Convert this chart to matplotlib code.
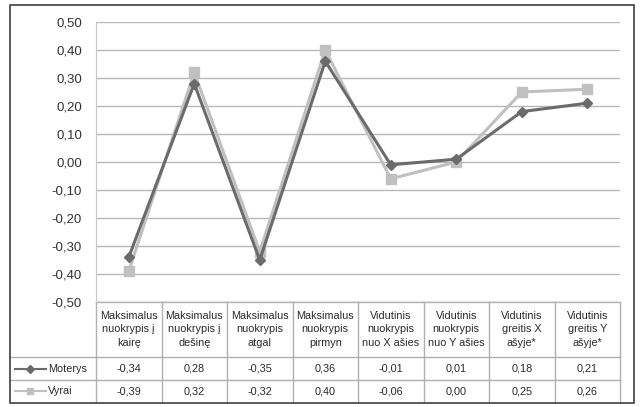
import matplotlib.pyplot as plt
from matplotlib.patches import Rectangle
from matplotlib.ticker import FuncFormatter

categories = ['Maksimalus\nnuokrypis į\nkairę', 'Maksimalus\nnuokrypis į\ndešinę',
              'Maksimalus\nnuokrypis\natgal', 'Maksimalus\nnuokrypis\npirmyn',
              'Vidutinis\nnuokrypis\nnuo X ašies', 'Vidutinis\nnuokrypis\nnuo Y ašies',
              'Vidutinis\ngreitis X\našyje*', 'Vidutinis\ngreitis Y\našyje*']
moterys = [-0.34, 0.28, -0.35, 0.36, -0.01, 0.01, 0.18, 0.21]
vyrai = [-0.39, 0.32, -0.32, 0.40, -0.06, 0.00, 0.25, 0.26]
yticks = [-0.5, -0.4, -0.3, -0.2, -0.1, 0.0, 0.1, 0.2, 0.3, 0.4, 0.5]

dark = '#6b6b6b'
light = '#c0c0c0'
grid = '#b8b8b8'
fam = ['Liberation Sans', 'DejaVu Sans']
tsize = 7.8
tcol = '#2a2a2a'

fig = plt.figure(figsize=(6.4, 4.07), dpi=100)
W, H = 640, 407
ax = fig.add_axes([96 / W, 1 - 302 / H, 524 / W, 280 / H])

x = list(range(len(categories)))
ax.plot(x, moterys, color=dark, lw=2.2, marker='D', ms=5.5, zorder=3)
ax.plot(x, vyrai, color=light, lw=2.2, marker='s', ms=7, zorder=2)

ax.set_xlim(-0.5, 7.5)
ax.set_ylim(-0.5, 0.5)
ax.set_yticks(yticks)
ax.yaxis.set_major_formatter(FuncFormatter(lambda v, p: ('%.2f' % v).replace('.', ',').replace('-0,00', '0,00')))
ax.tick_params(axis='y', length=0, pad=10, labelsize=9.5, colors='#333333')
ax.set_xticks([])
for lab in ax.get_yticklabels():
    lab.set_family(fam)
ax.grid(axis='y', color=grid, lw=1)
ax.set_axisbelow(True)
for s in ['top', 'right', 'bottom']:
    ax.spines[s].set_visible(False)
ax.spines['left'].set_color('#c8c8c8')

# data table below the plot (axes coords)
px = 1 / 524.0
py = 1 / 280.0
x_left = -86 * px
y_head = -55 * py
y_m = -78 * py
y_v = -100 * py
lc = '#b0b0b0'
ax.plot([0, 1], [0, 0], color=lc, lw=1, transform=ax.transAxes, clip_on=False)
for yy in [y_head, y_m]:
    ax.plot([x_left, 1], [yy, yy], color=lc, lw=1, transform=ax.transAxes, clip_on=False)
for i in range(len(categories) + 1):
    xx = i / len(categories)
    ax.plot([xx, xx], [0, y_v], color=lc, lw=1, transform=ax.transAxes, clip_on=False)

for i, c in enumerate(categories):
    xc = (i + 0.5) / len(categories)
    ax.text(xc, y_head / 2, c, ha='center', va='center', fontsize=tsize, family=fam,
            linespacing=1.45, transform=ax.transAxes, color=tcol)
    ax.text(xc, (y_head + y_m) / 2, ('%.2f' % moterys[i]).replace('.', ','), ha='center', va='center',
            fontsize=tsize, family=fam, transform=ax.transAxes, color=tcol)
    ax.text(xc, (y_m + y_v) / 2, ('%.2f' % vyrai[i]).replace('.', ','), ha='center', va='center',
            fontsize=tsize, family=fam, transform=ax.transAxes, color=tcol)

# legend keys in first column
for yy, col, mk, ms, name in [((y_head + y_m) / 2, dark, 'D', 4, 'Moterys'),
                              ((y_m + y_v) / 2, light, 's', 5, 'Vyrai')]:
    ax.plot([x_left + 5 * px, x_left + 36 * px], [yy, yy], color=col, lw=1.5,
            transform=ax.transAxes, clip_on=False)
    ax.plot([x_left + 20 * px], [yy], color=col, marker=mk, ms=ms,
            transform=ax.transAxes, clip_on=False)
    ax.text(x_left + 38 * px, yy, name, ha='left', va='center', fontsize=tsize, family=fam,
            transform=ax.transAxes, color=tcol)

# outer chart frame
fig.patches.append(Rectangle((10 / W, 1 - 403 / H), 624 / W, 398 / H, transform=fig.transFigure,
                             fill=False, edgecolor='#404040', lw=1.2))

fig.savefig('out.png', dpi=100)
